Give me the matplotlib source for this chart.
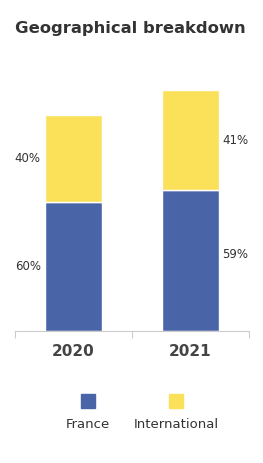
import matplotlib.pyplot as plt
from matplotlib.patches import Rectangle

years = ['2020', '2021']
france = [129, 141]
international = [87, 100]
france_lbl = ['60%', '59%']
intl_lbl = ['40%', '41%']

blue = '#4a64a8'
yellow = '#fbe15a'
txt = '#333333'

fig = plt.figure(figsize=(2.63, 4.63), dpi=100)
W, H = 263, 463
# axes from x=15..249 px, y=60..331 px (top-down)
ax = fig.add_axes([15 / W, (H - 331) / H, 234 / W, 271 / H])

x = [0, 1]
ax.bar(x, france, width=0.48, color=blue, edgecolor='white', linewidth=1)
ax.bar(x, international, width=0.48, bottom=france, color=yellow,
       edgecolor='white', linewidth=1)

ax.set_xlim(-0.5, 1.5)
ax.set_ylim(0, 271)

# percentage labels: left of 2020 bar, right of 2021 bar
ax.text(-0.28, france[0] / 2, france_lbl[0], ha='right', va='center',
        fontsize=8.5, color=txt)
ax.text(-0.28, france[0] + international[0] / 2, intl_lbl[0], ha='right',
        va='center', fontsize=8.5, color=txt)
ax.text(1.27, france[1] / 2 + 6, france_lbl[1], ha='left', va='center',
        fontsize=8.5, color=txt)
ax.text(1.27, france[1] + international[1] / 2, intl_lbl[1], ha='left',
        va='center', fontsize=8.5, color=txt)

for s in ['top', 'right', 'left']:
    ax.spines[s].set_visible(False)
ax.spines['bottom'].set_color('#cccccc')
ax.spines['bottom'].set_linewidth(0.8)
ax.set_yticks([])
ax.set_xticks(x)
ax.set_xticklabels(years, fontsize=11, fontweight='bold', color='#444444')
ax.tick_params(axis='x', which='major', length=0, pad=9)
ax.set_xticks([-0.5, 0.5, 1.5], minor=True)
ax.tick_params(axis='x', which='minor', length=5, color='#cccccc', width=0.8)

fig.text(15 / W, 1 - 28 / H, 'Geographical breakdown', fontsize=11.8,
         fontweight='bold', color=txt, ha='left', va='center')

# legend: square above label
for cx, col, name in [(88, blue, 'France'), (176, yellow, 'International')]:
    fig.add_artist(Rectangle(((cx - 7) / W, 1 - 408 / H), 14 / W, 14 / H,
                             transform=fig.transFigure, color=col))
    fig.text(cx / W, 1 - 425 / H, name, fontsize=9.5, color=txt,
             ha='center', va='center')

fig.savefig('out.png', dpi=100)
